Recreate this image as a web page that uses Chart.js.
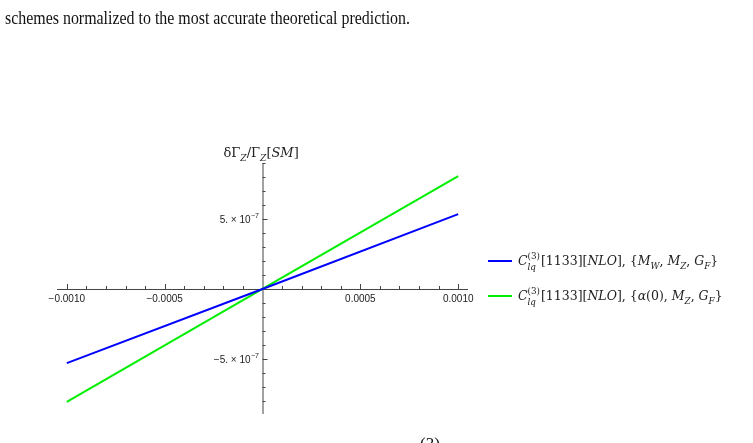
<!DOCTYPE html>
<html>
<head>
<meta charset="utf-8">
<script src="https://cdn.jsdelivr.net/npm/chart.js@4.4.1/dist/chart.umd.min.js"></script>
<style>
  body { margin: 0; background: #fff; }
  #wrap { position: relative; width: 753px; height: 443px; overflow: hidden; }
</style>
</head>
<body>
<div id="wrap"><canvas id="chart" width="753" height="443"></canvas></div>
<script>
// coupling values along x, and the normalized width shift per input scheme
const xValues = [-0.001, 0, 0.001];
const mwScheme = [-5.3e-7, 0, 5.35e-7];
const alphaScheme = [-8.07e-7, 0, 8.07e-7];

const xRange = [-0.00105, 0.00105];
const yRange = [-8.93e-7, 9.0e-7];
const xMajorTicks = [-0.001, -0.0005, 0.0005, 0.001];
const xTickLabels = ['\u22120.0010', '\u22120.0005', '0.0005', '0.0010'];
const yMajorTicks = [5e-7, -5e-7];
const yTickLabels = [['5.', '\u22127'], ['\u22125.', '\u22127']];

// rich-text pieces: [text, italic?, shift]
const legendLabels = [
  [['C', 1, 0], ['(3)', 0, 'sup'], ['lq', 1, 'sub'], ['[1133][', 0, 0], ['NLO', 1, 0], ['], {', 0, 0],
   ['M', 1, 0], ['W', 1, 'sub'], [', ', 0, 0], ['M', 1, 0], ['Z', 1, 'sub'], [', ', 0, 0], ['G', 1, 0], ['F', 1, 'sub'], ['}', 0, 0]],
  [['C', 1, 0], ['(3)', 0, 'sup'], ['lq', 1, 'sub'], ['[1133][', 0, 0], ['NLO', 1, 0], ['], {', 0, 0],
   ['\u03b1', 1, 0], ['(0), ', 0, 0], ['M', 1, 0], ['Z', 1, 'sub'], [', ', 0, 0], ['G', 1, 0], ['F', 1, 'sub'], ['}', 0, 0]]
];
const yTitle = [['\u03b4\u0393', 0, 0], ['Z', 1, 'sub'], ['/\u0393', 0, 0], ['Z', 1, 'sub'], ['[', 0, 0], ['SM', 1, 0], [']', 0, 0]];
const seriesColors = ['#0000ff', '#00ee00'];

function drawRich(ctx, parts, x, y, size) {
  const fam = '"DejaVu Serif", "Liberation Serif", serif';
  let cx = x;
  let supStart = null, supW = 0;
  parts.forEach(([t, it, shift]) => {
    const s = shift ? size * 0.7 : size;
    ctx.font = (it ? 'italic ' : '') + s + 'px ' + fam;
    const w = ctx.measureText(t).width;
    let dy = 0;
    if (shift === 'sup') {
      dy = -size * 0.5;
      supStart = cx; supW = w;
    }
    if (shift === 'sub') {
      dy = size * 0.3;
      if (supStart !== null) {
        // stack sub under the previous superscript
        ctx.fillText(t, supStart, y + dy + 1);
        cx = supStart + Math.max(supW, w) + 1;
        supStart = null;
        return;
      }
    }
    if (shift !== 'sup') supStart = null;
    ctx.fillText(t, cx, y + dy);
    cx += w;
  });
}

const axesPlugin = {
  id: 'mathAxes',
  beforeDatasetsDraw(chart) {
    const { ctx, chartArea: a } = chart;
    const xs = chart.scales.x, ys = chart.scales.y;
    const ox = xs.getPixelForValue(0), oy = ys.getPixelForValue(0);
    ctx.save();
    ctx.strokeStyle = '#444';
    ctx.lineWidth = 1;
    ctx.beginPath();
    ctx.moveTo(a.left, oy + 0.5); ctx.lineTo(a.right, oy + 0.5);
    ctx.moveTo(ox + 0.5, a.top); ctx.lineTo(ox + 0.5, a.bottom);
    for (let i = -10; i <= 10; i++) {
      if (i === 0) continue;
      const px = Math.round(xs.getPixelForValue(i * 1e-4)) + 0.5;
      const len = i % 5 === 0 ? 5 : 3;
      ctx.moveTo(px, oy); ctx.lineTo(px, oy - len);
    }
    for (let i = -8; i <= 9; i++) {
      if (i === 0) continue;
      const py = Math.round(ys.getPixelForValue(i * 1e-7)) + 0.5;
      const len = i % 5 === 0 ? 5 : 3;
      ctx.moveTo(ox, py); ctx.lineTo(ox + len, py);
    }
    ctx.stroke();

    ctx.fillStyle = '#222';
    ctx.font = '10px "Liberation Sans", Arial, sans-serif';
    ctx.textAlign = 'center';
    ctx.textBaseline = 'alphabetic';
    xMajorTicks.forEach((v, i) => {
      ctx.fillText(xTickLabels[i], xs.getPixelForValue(v), oy + 13);
    });
    ctx.textAlign = 'left';
    yMajorTicks.forEach((v, i) => {
      const py = ys.getPixelForValue(v);
      const [mant, exp] = yTickLabels[i];
      ctx.font = '7px "Liberation Sans", Arial, sans-serif';
      const ew = ctx.measureText(exp).width;
      ctx.font = '10px "Liberation Sans", Arial, sans-serif';
      const main = mant + ' \u00d7 10';
      const mw = ctx.measureText(main).width;
      const x0 = ox - 4 - ew - mw;
      ctx.fillText(main, x0, py + 4);
      ctx.font = '7px "Liberation Sans", Arial, sans-serif';
      ctx.fillText(exp, x0 + mw + 0.5, py - 1);
    });
    ctx.restore();
  },
  afterDraw(chart) {
    const { ctx } = chart;
    const ox = chart.scales.x.getPixelForValue(0);
    ctx.save();
    ctx.fillStyle = '#222';
    ctx.textBaseline = 'alphabetic';
    ctx.textAlign = 'left';
    drawRich(ctx, yTitle, ox - 39, 157, 13);

    legendLabels.forEach((parts, i) => {
      const y = 261 + i * 35;
      ctx.strokeStyle = seriesColors[i];
      ctx.lineWidth = 2;
      ctx.beginPath(); ctx.moveTo(488, y); ctx.lineTo(512, y); ctx.stroke();
      ctx.fillStyle = '#222';
      drawRich(ctx, parts, 518, y + 4, 12.5);
    });

    ctx.fillStyle = '#111';
    ctx.font = '18px "Liberation Serif", "DejaVu Serif", serif';
    ctx.fillText('schemes normalized to the most accurate theoretical prediction.', 5, 24, 405);
    ctx.font = '17px "Liberation Serif", serif';
    ctx.fillText('(3)', 420, 449);
    ctx.restore();
  }
};

const toPoints = ys => xValues.map((x, i) => ({ x, y: ys[i] }));

new Chart(document.getElementById('chart'), {
  type: 'scatter',
  data: {
    datasets: [
      { data: toPoints(mwScheme), borderColor: seriesColors[0], showLine: true, pointRadius: 0, borderWidth: 2 },
      { data: toPoints(alphaScheme), borderColor: seriesColors[1], showLine: true, pointRadius: 0, borderWidth: 2 }
    ]
  },
  options: {
    responsive: false,
    animation: false,
    layout: { padding: { left: 57, right: 285, top: 163, bottom: 29 } },
    plugins: { legend: { display: false }, tooltip: { enabled: false } },
    scales: {
      x: { type: 'linear', min: xRange[0], max: xRange[1], display: false },
      y: { type: 'linear', min: yRange[0], max: yRange[1], display: false }
    }
  },
  plugins: [axesPlugin]
});
</script>
</body>
</html>
